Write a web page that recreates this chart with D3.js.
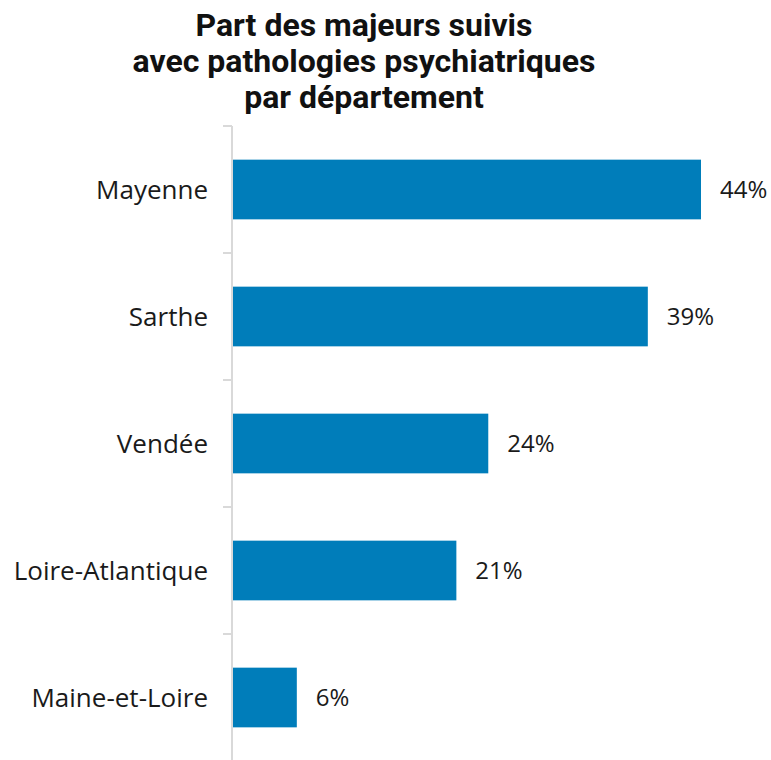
<!DOCTYPE html>
<html>
<head>
<meta charset="utf-8">
<script src="https://cdn.jsdelivr.net/npm/d3@7"></script>
<style>
  body { margin: 0; background: #fff; }
  svg { display: block; }
</style>
</head>
<body>
<script>
var titleLines = ["Part des majeurs suivis", "avec pathologies psychiatriques", "par département"];
var departements = ["Mayenne", "Sarthe", "Vendée", "Loire-Atlantique", "Maine-et-Loire"];
var parts = [44, 39, 24, 21, 6];

var width = 771, height = 760;
var left = 233;

var svg = d3.select("body").append("svg")
    .attr("width", width)
    .attr("height", height);

// titre
svg.append("text")
    .attr("text-anchor", "middle")
    .attr("font-family", "Roboto")
    .attr("font-weight", "bold")
    .attr("font-size", 32)
    .attr("fill", "#111")
    .selectAll("tspan")
    .data(titleLines)
    .enter().append("tspan")
    .attr("x", 364)
    .attr("y", function (d, i) { return 36 + i * 36; })
    .text(function (d) { return d; });

var x = d3.scaleLinear().domain([0, 44]).range([left, 701]);
var y = d3.scaleBand().domain(departements).range([126, 761]).paddingInner(0.53).paddingOuter(0.265);

// axe vertical avec graduations entre les catégories
var axisG = svg.append("g").attr("stroke", "#d9d9d9").attr("stroke-width", 2);
axisG.append("line")
    .attr("x1", left - 1).attr("x2", left - 1)
    .attr("y1", 126).attr("y2", height);
axisG.selectAll("line.tick")
    .data(d3.range(departements.length + 1))
    .enter().append("line")
    .attr("class", "tick")
    .attr("x1", left - 10).attr("x2", left - 1)
    .attr("y1", function (i) { return 126 + i * y.step(); })
    .attr("y2", function (i) { return 126 + i * y.step(); });

svg.selectAll("rect.bar")
    .data(parts)
    .enter().append("rect")
    .attr("class", "bar")
    .attr("x", x(0))
    .attr("y", function (d, i) { return y(departements[i]); })
    .attr("width", function (d) { return x(d) - x(0); })
    .attr("height", y.bandwidth())
    .attr("fill", "#007dba");

svg.selectAll("text.cat")
    .data(departements)
    .enter().append("text")
    .attr("class", "cat")
    .attr("x", 208)
    .attr("y", function (d) { return y(d) + y.bandwidth() / 2; })
    .attr("dy", "0.35em")
    .attr("text-anchor", "end")
    .attr("font-family", "Open Sans")
    .attr("font-size", 26)
    .attr("fill", "#1a1a1a")
    .text(function (d) { return d; });

svg.selectAll("text.val")
    .data(parts)
    .enter().append("text")
    .attr("class", "val")
    .attr("x", function (d) { return x(d) + 19; })
    .attr("y", function (d, i) { return y(departements[i]) + y.bandwidth() / 2; })
    .attr("dy", "0.35em")
    .attr("font-family", "Open Sans")
    .attr("font-size", 24)
    .attr("fill", "#1a1a1a")
    .text(function (d) { return d + "%"; });
</script>
</body>
</html>
